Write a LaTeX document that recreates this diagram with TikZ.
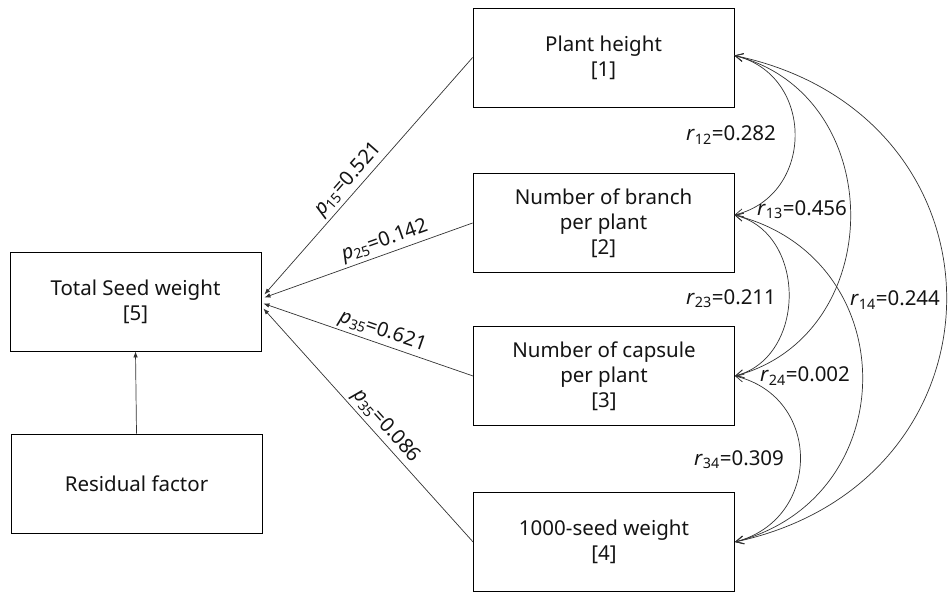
\documentclass[tikz,border=0pt]{standalone}
\usepackage{fontspec}
\setmainfont{Noto Sans}
\usetikzlibrary{arrows.meta}
\definecolor{linegray}{RGB}{50,50,50}
\definecolor{textgray}{RGB}{20,20,20}
\tikzset{
  path/.style={linegray, line width=0.7pt, -{Latex[length=6pt,width=4.5pt]}},
  corr/.style={linegray, line width=0.7pt, {Straight Barb[length=8pt,width=8pt]}-{Straight Barb[length=8pt,width=8pt]}},
  coef/.style={sloped, above=2pt, inner sep=0.5pt, text=textgray, font=\fontsize{20}{22}\selectfont}
}
\newcommand{\pc}[2]{\textit{p}\textsubscript{#1}=#2}
\newcommand{\rc}[2]{\textit{r}\textsubscript{#1}=#2}

\begin{document}
\begin{tikzpicture}[x=1pt, y=-1pt, text=textgray, font=\fontsize{20.5}{25}\selectfont]
\useasboundingbox (0,0) rectangle (949,592);

\begin{scope}[every node/.style={draw=black, minimum width=261pt, minimum height=99pt, align=center, inner sep=0pt, line width=0.8pt}]
\node (b1) at (603.5,57.5) {Plant height\\{[1]}};
\node (b2) at (603.5,223) {Number of branch\\per plant\\{[2]}};
\node (b3) at (604,376) {Number of capsule\\per plant\\{[3]}};
\node (b4) at (604,542) {1000-seed weight\\{[4]}};
\end{scope}

\begin{scope}[every node/.style={draw=black, minimum width=251pt, minimum height=99pt, align=center, inner sep=0pt, line width=0.8pt}]
\node (tsw) at (135.5,301.5) {Total Seed weight\\{[5]}};
\node (res) at (136.5,483.5) {Residual factor};
\end{scope}

% path coefficients
\coordinate (t1) at ([xshift=3pt,yshift=7pt]tsw.east);
\coordinate (t2) at ([xshift=3pt,yshift=4pt]tsw.east);
\coordinate (t3) at ([xshift=2pt,yshift=-2pt]tsw.east);
\coordinate (t4) at ([xshift=2pt,yshift=-7pt]tsw.east);
\draw[path] (b1.west) -- node[coef, pos=0.55] {\pc{15}{0.521}} (t1);
\draw[path] (b2.west) -- node[coef, pos=0.40] {\pc{25}{0.142}} (t2);
\draw[path] (b3.west) -- node[coef, pos=0.45] {\pc{35}{0.621}} (t3);
\draw[path] (b4.west) -- node[coef, pos=0.46] {\pc{35}{0.086}} (t4);
\draw[path] (res.north) -- (tsw.south);

% correlations
\coordinate (e1) at ([yshift=2pt]b1.east);
\coordinate (e2) at ([yshift=8pt]b2.east);
\coordinate (e3) at (b3.east);
\coordinate (e4) at (b4.east);
\draw[corr] (e1) .. controls (815,75) and (815,195) .. (e2);
\draw[corr] (e1) .. controls (889,95) and (889,335) .. (e3);
\draw[corr] (e1) .. controls (1017,115) and (1017,481) .. (e4);
\draw[corr] (e2) .. controls (807,233) and (807,357) .. (e3);
\draw[corr] (e2) .. controls (905,258) and (905,498) .. (e4);
\draw[corr] (e3) .. controls (822,397) and (822,519) .. (e4);

\node (r12) at (731,135) {\rc{12}{0.282}};
\node (r13) at (802,210) {\rc{13}{0.456}};
\node (r23) at (731,299) {\rc{23}{0.211}};
\node (r14) at (895,300) {\rc{14}{0.244}};
\node (r24) at (805,376) {\rc{24}{0.002}};
\node (r34) at (739,460) {\rc{34}{0.309}};
\end{tikzpicture}
\end{document}
